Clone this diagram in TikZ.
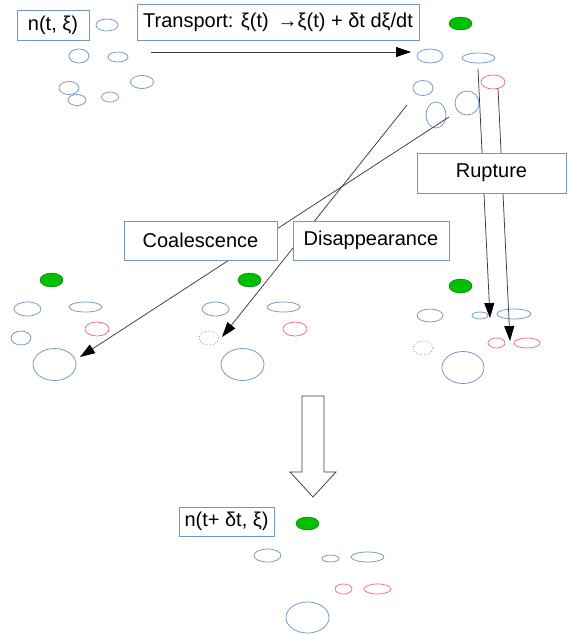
\documentclass[tikz,border=0pt]{standalone}
\usepackage{fontspec}
\setmainfont{Liberation Sans}
\usetikzlibrary{shapes.geometric,arrows.meta}
\definecolor{bblue}{RGB}{114,150,204}
\definecolor{bred}{RGB}{250,110,110}
\definecolor{bgreen}{RGB}{0,192,0}
\definecolor{lgray}{RGB}{60,60,60}
\newcommand\El[6]{\node[#1, minimum width=2*#5pt, minimum height=2*#6pt] (#2) at (#3,#4) {};}
\begin{document}
\begin{tikzpicture}[x=1pt,y=-1pt,
 bub/.style={ellipse,draw=bblue,line width=0.75pt,inner sep=0pt},
 rbub/.style={bub,draw=bred},
 dbub/.style={bub,dotted},
 gbub/.style={ellipse,fill=bgreen,draw=green!40!black,line width=0.4pt,inner sep=0pt},
 lbl/.style={draw=bblue,fill=white,line width=0.75pt,inner sep=0pt,font=\fontsize{20}{24}\selectfont},
 conn/.style={draw=lgray,line width=0.75pt,-{Triangle[length=15pt,width=10pt,color=black]}},
 block/.style={draw=lgray,fill=white,line width=0.75pt}]
\useasboundingbox[fill=white] (0,0) rectangle (568,635);

% top-left group
\El{bub}{a1}{107}{25}{11}{6}
\El{bub}{a2}{79}{56}{10}{7}
\El{bub}{a3}{118}{57}{10}{5}
\El{bub}{a4}{142}{82}{11.5}{6.5}
\El{bub}{a5}{69}{88}{10}{6.5}
\El{bub}{a6}{77}{100}{9}{5.5}
\El{bub}{a7}{110}{97}{8.5}{5}

% top-right group
\El{gbub}{b0}{460.5}{23.5}{11.5}{6.5}
\El{bub}{b1}{430}{56}{13}{7}
\El{bub}{b2}{478.5}{58}{16.5}{5}
\El{rbub}{b3}{493}{82}{12}{7}
\El{bub}{b4}{423}{88}{10}{7.5}
\El{bub}{b5}{436}{115}{10}{13}
\El{bub}{b6}{467}{103}{12}{12}

% coalescence result group
\El{gbub}{c0}{51.5}{280}{11.5}{7}
\El{bub}{c1}{27.5}{309}{13.5}{7}
\El{bub}{c2}{85.5}{307}{16.5}{5}
\El{rbub}{c3}{97}{329}{12}{7}
\El{bub}{c4}{21}{338}{10}{7}
\El{bub}{c5}{54.5}{364.5}{21.5}{16}

% disappearance result group
\El{gbub}{d0}{249.5}{280}{11.5}{7}
\El{bub}{d1}{215.5}{309}{13.5}{7}
\El{bub}{d2}{283.5}{307}{16.5}{5}
\El{rbub}{d3}{295}{329}{12}{7}
\El{dbub}{d4}{209}{338}{10}{7}
\El{bub}{d5}{242.5}{364.5}{21.5}{16}

% rupture result group
\El{gbub}{e0}{460.5}{286}{11.5}{7}
\El{bub}{e1}{430}{315.5}{13}{6.5}
\El{bub}{e2}{480}{315.5}{8}{3.5}
\El{bub}{e3}{514}{314}{17}{5}
\El{rbub}{e4}{496.5}{343}{8.5}{5}
\El{rbub}{e5}{527}{343}{13}{5}
\El{dbub}{e6}{423}{348}{10}{7}
\El{bub}{e7}{463}{367.5}{21}{16}

% final group
\El{gbub}{f0}{307.5}{523.5}{11.5}{6.5}
\El{bub}{f1}{267.5}{555.5}{13.5}{6.5}
\El{bub}{f2}{330.5}{558.5}{8.5}{3.5}
\El{bub}{f3}{367.5}{557}{16.5}{5}
\El{rbub}{f4}{343.5}{589}{8.5}{5}
\El{rbub}{f5}{377.5}{589}{13.5}{5}
\El{bub}{f6}{307.5}{617.5}{21.5}{15.5}

% connector end points
\coordinate (ts) at (151,52);
\coordinate (te) at (411,52);
\coordinate (r1s) at (478,69);
\coordinate (r1e) at (490,318);
\coordinate (r2s) at (498,88);
\coordinate (r2e) at (510,341);
\coordinate (cs) at (449,117);
\coordinate (ce) at (80,357);
\coordinate (ds) at (407,105);
\coordinate (de) at (222,337);

% connectors
\draw[conn] (ts) -- (te);
\draw[conn] (r1s) -- (r1e);
\draw[conn] (r2s) -- (r2e);
\draw[conn] (cs) -- (ce);
\draw[conn] (ds) -- (de);

% labels
\node[lbl, minimum width=72pt, minimum height=30pt] (n0) at (53,25) {n(t, ξ)};
\node[lbl, minimum width=282pt, minimum height=36pt] (tr) at (278,22) {Transport: ξ(t) \,→ξ(t) + δt dξ/dt};
\node[lbl, minimum width=149pt, minimum height=40pt] (ru) at (491.5,173) {Rupture};
\node[lbl, minimum width=153pt, minimum height=39pt] (co) at (200.5,240.5) {Coalescence};
\node[lbl, minimum width=156pt, minimum height=39pt] (di) at (371,240.5) {Disappearance};
\node[lbl, minimum width=95pt, minimum height=29pt] (n1) at (226.5,521.5) {n(t+ δt, ξ)};

% block arrow
\draw[block] (302,396) -- (324,396) -- (324,472) -- (336,472) -- (313,497) -- (290,472) -- (302,472) -- cycle;
\end{tikzpicture}
\end{document}
